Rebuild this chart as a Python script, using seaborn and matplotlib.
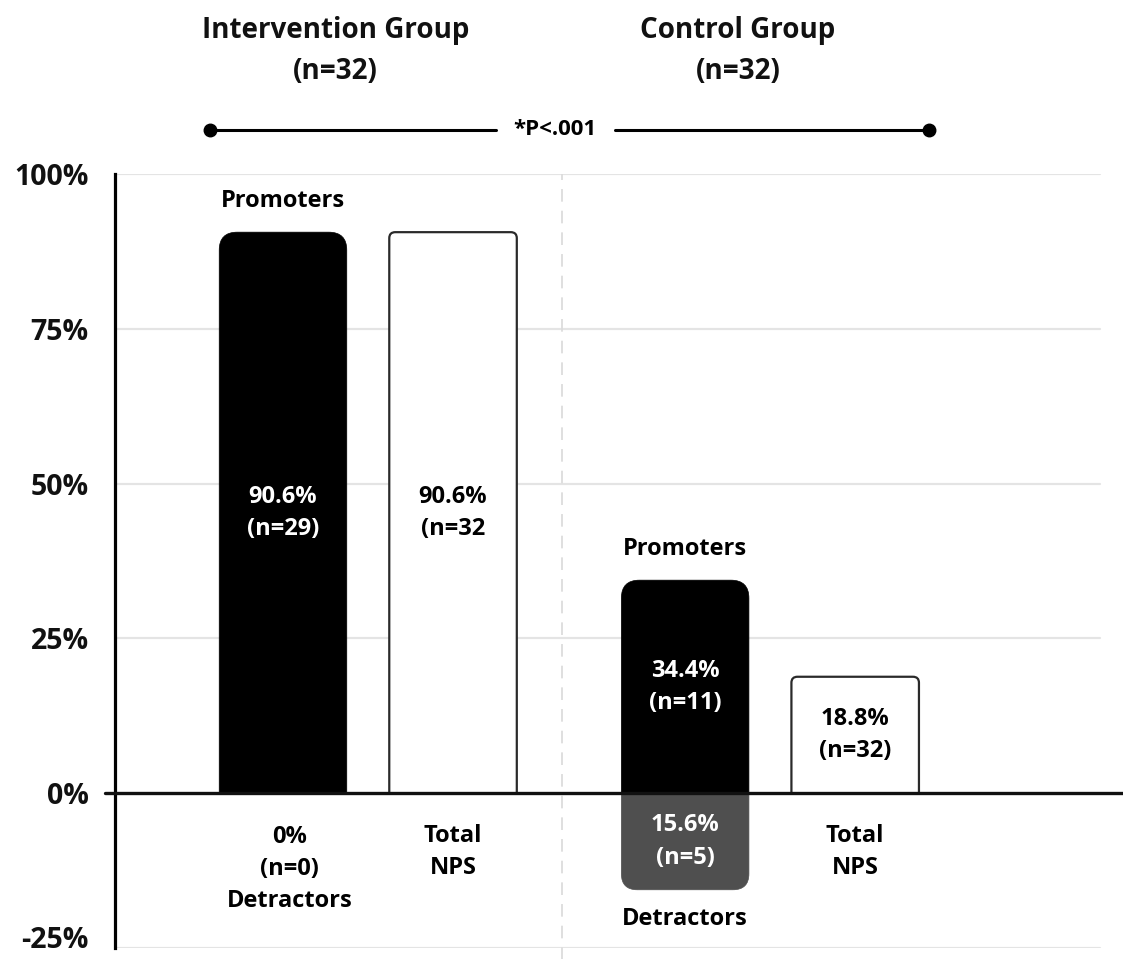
import numpy as np
import pandas as pd
import matplotlib
matplotlib.use("Agg")
import matplotlib.pyplot as plt
from matplotlib.path import Path
from matplotlib.patches import PathPatch
import seaborn as sns

# ---- data -------------------------------------------------------------
groups = ["Intervention Group", "Control Group"]
group_n = [32, 32]
promoters_pct = [90.6, 34.4]
promoters_n = [29, 11]
detractors_pct = [0.0, 15.6]
detractors_n = [0, 5]
nps_pct = [90.6, 18.8]
nps_n_text = ["(n=32", "(n=32)"]
p_value_text = "*P<.001"
y_ticks = [-25, 0, 25, 50, 75, 100]
y_tick_labels = ["-25%", "0%", "25%", "50%", "75%", "100%"]

# ---- layout -------------------------------------------------------------
group_start = [0.0, 2.365]          # x of the promoters/detractors column per group
bar_width = 0.75
FIG_W, FIG_H, DPI = 11.23, 9.59, 100
AX_RECT = [0.1024, 0.0115, 0.8976, 0.8071]
XLIM = (-0.988, 4.94)
YLIM = (-25, 100)

FONT = "Open Sans"
BLACK = "#000000"
GREY = "#4f4f4f"
EDGE = "#2a2a2a"

sns.set_style("white")
plt.rcParams["font.family"] = [FONT, "DejaVu Sans"]
plt.rcParams["font.weight"] = "bold"

rows = []
for g, start in enumerate(group_start):
    rows.append({"x": start, "value": promoters_pct[g], "kind": "Promoters"})
    rows.append({"x": start, "value": -detractors_pct[g], "kind": "Detractors"})
    rows.append({"x": start + 1, "value": nps_pct[g], "kind": "Total NPS"})
df = pd.DataFrame(rows)

fig = plt.figure(figsize=(FIG_W, FIG_H), dpi=DPI)
ax = fig.add_axes(AX_RECT)

palette = {"Promoters": BLACK, "Detractors": GREY, "Total NPS": "#ffffff"}
sns.barplot(data=df, x="x", y="value", hue="kind", palette=palette,
            native_scale=True, dodge=False, width=bar_width, legend=False,
            saturation=1, errorbar=None, ax=ax)
ax.set_xlim(*XLIM)
ax.set_ylim(*YLIM)

# pixel scale of the data axes, used to give the bar corners a round shape
ax_px_w = AX_RECT[2] * FIG_W * DPI
ax_px_h = AX_RECT[3] * FIG_H * DPI
px_x = ax_px_w / (XLIM[1] - XLIM[0])
px_y = ax_px_h / (YLIM[1] - YLIM[0])


def rounded_bar(rect, radius_px, face, edge, lw):
    """Redraw a bar with rounded corners at its outer end only."""
    x0 = rect.get_x()
    x1 = x0 + rect.get_width()
    base = rect.get_y()
    h = rect.get_height()
    if abs(h) < 1e-9:
        return
    tip = base + h
    s = np.sign(h)
    rx = radius_px / px_x
    ry = min(radius_px / px_y, abs(h) / 2)
    verts = [(x0, base), (x0, tip - s * ry), (x0, tip), (x0 + rx, tip),
             (x1 - rx, tip), (x1, tip), (x1, tip - s * ry), (x1, base), (x0, base)]
    codes = [Path.MOVETO, Path.LINETO, Path.CURVE3, Path.CURVE3,
             Path.LINETO, Path.CURVE3, Path.CURVE3, Path.LINETO, Path.CLOSEPOLY]
    ax.add_patch(PathPatch(Path(verts, codes), facecolor=face, edgecolor=edge,
                           lw=lw, zorder=2, joinstyle="round"))


for rect in list(ax.patches):
    fc = rect.get_facecolor()
    if fc[0] > 0.9:          # white total-NPS bars
        rounded_bar(rect, 6, "#ffffff", EDGE, 1.6)
    elif fc[0] > 0.2:        # grey detractors
        rounded_bar(rect, 16, GREY, GREY, 0.5)
    else:                    # black promoters
        rounded_bar(rect, 18, BLACK, BLACK, 0.5)
    rect.remove()

# ---- axes styling ---------------------------------------------------------
for side in ["top", "right", "bottom"]:
    ax.spines[side].set_visible(False)
ax.spines["left"].set_color(BLACK)
ax.spines["left"].set_linewidth(2.3)
ax.set_xticks([])
ax.set_xlabel("")
ax.set_ylabel("")
ax.set_yticks(y_ticks)
ax.set_yticklabels(y_tick_labels, fontsize=20.5, fontweight="bold", color="#111111")
ax.tick_params(axis="y", length=0, pad=19)
for lbl in ax.get_yticklabels():
    if lbl.get_text() == y_tick_labels[0]:
        lbl.set_verticalalignment("baseline")

for yv in y_ticks:
    if yv != 0:
        ax.axhline(yv, xmin=0, xmax=0.977, color="#e4e4e4", lw=1.6, zorder=0)
ax.axhline(0, xmin=-0.01, xmax=1.0, color="#111111", lw=2.4, zorder=4, clip_on=False)

divider_x = (group_start[0] + 1 + group_start[1]) / 2 - 0.04
ax.axvline(divider_x, ymin=-0.02, ymax=1.0, color="#dcdcdc", lw=1.3,
           ls=(0, (7, 5)), zorder=0, clip_on=False)

# ---- labels ---------------------------------------------------------------
lab_kw = dict(ha="center", va="center", fontsize=17, fontweight="bold",
              linespacing=1.45, zorder=5)

for g, start in enumerate(group_start):
    # promoters
    ax.text(start, promoters_pct[g] + 5, "Promoters", color=BLACK, **lab_kw)
    ax.text(start, promoters_pct[g] / 2, f"{promoters_pct[g]:.1f}%\n(n={promoters_n[g]})",
            color="white", **lab_kw)
    # total NPS
    ax.text(start + 1, nps_pct[g] / 2, f"{nps_pct[g]:.1f}%\n{nps_n_text[g]}",
            color=BLACK, **lab_kw)
    ax.text(start + 1, -9.5, "Total\nNPS", color=BLACK, **lab_kw)
    # detractors
    if detractors_pct[g] > 0:
        ax.text(start, -detractors_pct[g] / 2,
                f"{detractors_pct[g]:.1f}%\n(n={detractors_n[g]})",
                color="white", **lab_kw)
        ax.text(start, -20.3, "Detractors", color=BLACK, **lab_kw)
    else:
        ax.text(start + 0.04, -12.2,
                f"{detractors_pct[g]:.0f}%\n(n={detractors_n[g]})\nDetractors",
                color=BLACK, **lab_kw)
    # group heading
    ax.text(start + 0.31, 119.8, f"{groups[g]}\n(n={group_n[g]})", ha="center",
            va="center", fontsize=20, fontweight="bold", linespacing=1.55,
            color="#111111", clip_on=False)

# significance bracket between the groups
y_sig = 107.1
left_end, right_end = -0.43, 3.8
mid = 1.6
ax.plot([left_end, 1.25], [y_sig, y_sig], color=BLACK, lw=2.2, clip_on=False)
ax.plot([1.95, right_end], [y_sig, y_sig], color=BLACK, lw=2.2, clip_on=False)
ax.plot([left_end, right_end], [y_sig, y_sig], ls="none", marker="o", ms=9,
        color=BLACK, clip_on=False)
ax.text(mid, y_sig, p_value_text, ha="center", va="center", fontsize=16,
        fontweight="bold", color=BLACK, clip_on=False)

fig.savefig("out.png", dpi=DPI, facecolor="white")
